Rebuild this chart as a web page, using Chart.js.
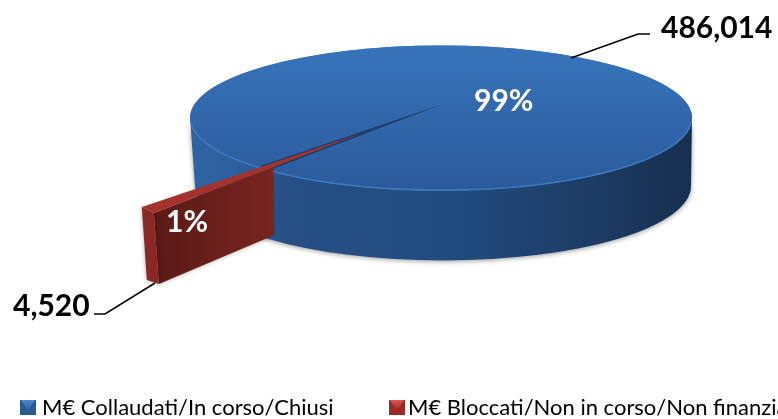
<!DOCTYPE html>
<html>
<head>
<meta charset="utf-8">
<title>Pie</title>
<script src="https://cdn.jsdelivr.net/npm/chart.js@4/dist/chart.umd.min.js"></script>
<style>
html, body { margin: 0; padding: 0; background: #fff; overflow: hidden; }
canvas { display: block; }
</style>
</head>
<body>
<canvas id="chart" width="778" height="419"></canvas>
<script>
const categories = ['M€ Collaudati/In corso/Chiusi', 'M€ Bloccati/Non in corso/Non finanziati'];
const values = [486014, 4520];
const percentLabels = ['99%', '1%'];

// pie tilt, fitted by eye to the picture
const RADIUS = 251;
const TILT = 0.289;
const PIE_X = 441, PIE_Y = 118;
const APEX_X = 443, APEX_Y = 104;
const DEPTH = 68;
// the exploded slice is nearer to the viewer, so it gets its own matrix
const EXPLODE = 95;
const NEAR = { a: 1.179, b: 0.133, c: -0.147, d: 0.5 };
const FONT = 'Lato, Carlito, sans-serif';

function nearPoint(arc, angle, r) {
    const mid = (arc.startAngle + arc.endAngle) / 2;
    const px = Math.cos(mid) * EXPLODE + Math.cos(angle) * r;
    const py = Math.sin(mid) * EXPLODE + Math.sin(angle) * r;
    return { x: APEX_X + NEAR.a * px + NEAR.c * py, y: APEX_Y + NEAR.b * px + NEAR.d * py };
}

function drawBlueWall(ctx) {
    const g = ctx.createLinearGradient(PIE_X - RADIUS, 0, PIE_X + RADIUS, 0);
    g.addColorStop(0, '#2f64a4');
    g.addColorStop(0.16, '#2b5b98');
    g.addColorStop(0.18, '#264f86');
    g.addColorStop(0.55, '#214a7d');
    g.addColorStop(0.8, '#1d3c64');
    g.addColorStop(1, '#172f4f');
    ctx.save();
    ctx.shadowColor = 'rgba(0,0,0,0.4)';
    ctx.shadowBlur = 5;
    ctx.shadowOffsetY = 1;
    ctx.fillStyle = g;
    ctx.beginPath();
    ctx.ellipse(PIE_X, PIE_Y, RADIUS, RADIUS * TILT, 0, 0, Math.PI);
    ctx.ellipse(PIE_X + 2, PIE_Y + DEPTH, RADIUS - 3, RADIUS * TILT + 2, 0, Math.PI, 0, true);
    ctx.closePath();
    ctx.fill();
    ctx.restore();
}

function drawRedWalls(ctx, arc) {
    const tip = nearPoint(arc, arc.startAngle, 0);
    const c1 = nearPoint(arc, arc.endAngle, RADIUS);
    const c2 = nearPoint(arc, arc.startAngle, RADIUS);
    const cut = { x: c2.x + (tip.x - c2.x) * 0.572, y: c2.y + (tip.y - c2.y) * 0.572 };

    ctx.save();
    ctx.shadowColor = 'rgba(0,0,0,0.35)';
    ctx.shadowBlur = 4;
    const side = ctx.createLinearGradient(c2.x, 0, cut.x, 0);
    side.addColorStop(0, '#5b1a17');
    side.addColorStop(1, '#78241f');
    ctx.fillStyle = side;
    ctx.beginPath();
    ctx.moveTo(c2.x, c2.y);
    ctx.lineTo(cut.x, cut.y);
    ctx.lineTo(cut.x + 1, cut.y + DEPTH);
    ctx.lineTo(c2.x + 5, c2.y + DEPTH + 3);
    ctx.closePath();
    ctx.fill();
    ctx.fillStyle = '#8a2825';
    ctx.beginPath();
    ctx.moveTo(c1.x, c1.y);
    ctx.lineTo(c2.x, c2.y);
    ctx.lineTo(c2.x + 5, c2.y + DEPTH + 3);
    ctx.lineTo(c1.x + 5, c1.y + DEPTH + 5);
    ctx.closePath();
    ctx.fill();
    ctx.restore();
}

function drawLeader(ctx, pts) {
    ctx.save();
    ctx.strokeStyle = '#000';
    ctx.lineWidth = 1.5;
    ctx.beginPath();
    pts.forEach((p, i) => i ? ctx.lineTo(p[0], p[1]) : ctx.moveTo(p[0], p[1]));
    ctx.stroke();
    ctx.restore();
}

function drawSwatch(ctx, x, y, top, bottom, edge) {
    const g = ctx.createLinearGradient(0, y, 0, y + 15);
    g.addColorStop(0, top);
    g.addColorStop(1, bottom);
    ctx.fillStyle = edge;
    ctx.fillRect(x, y, 16, 15);
    ctx.fillStyle = g;
    ctx.beginPath();
    ctx.moveTo(x + 1, y);
    ctx.lineTo(x + 15, y);
    ctx.lineTo(x + 8, y + 11);
    ctx.closePath();
    ctx.fill();
}

const pie3d = {
    id: 'pie3d',
    beforeDatasetsDraw(chart) {
        const ctx = chart.ctx;
        const arcs = chart.getDatasetMeta(0).data;
        const blue = arcs[0], red = arcs[1];
        const mid = (red.startAngle + red.endAngle) / 2;

        drawBlueWall(ctx);

        // top face, the full disc goes under the arc to close the gap
        ctx.save();
        ctx.translate(PIE_X, PIE_Y);
        ctx.scale(1, TILT);
        ctx.translate(-blue.x, -blue.y);
        ctx.fillStyle = blue.options.backgroundColor;
        ctx.beginPath();
        ctx.arc(blue.x, blue.y, RADIUS, 0, Math.PI * 2);
        ctx.fill();
        blue.draw(ctx);
        ctx.restore();

        // light edge along the front of the top face
        ctx.save();
        ctx.strokeStyle = '#3c7ac2';
        ctx.lineWidth = 1.5;
        ctx.beginPath();
        ctx.ellipse(PIE_X, PIE_Y, RADIUS - 0.5, RADIUS * TILT - 0.5, 0, 0.05, Math.PI - 0.05);
        ctx.stroke();
        ctx.restore();

        // dark gap the slice left behind
        ctx.save();
        ctx.translate(APEX_X, APEX_Y);
        ctx.scale(1, TILT);
        ctx.fillStyle = '#1d3f6c';
        ctx.beginPath();
        ctx.moveTo(0, 0);
        ctx.arc(0, 0, 282, red.startAngle, red.endAngle);
        ctx.closePath();
        ctx.fill();
        ctx.restore();

        drawRedWalls(ctx, red);

        ctx.save();
        ctx.translate(APEX_X, APEX_Y);
        ctx.transform(NEAR.a, NEAR.b, NEAR.c, NEAR.d, 0, 0);
        ctx.translate(Math.cos(mid) * EXPLODE - red.x, Math.sin(mid) * EXPLODE - red.y);
        red.draw(ctx);
        ctx.restore();

        return false;
    },
    afterDraw(chart) {
        const ctx = chart.ctx;
        const fmt = v => v.toLocaleString('en-US');

        drawLeader(ctx, [[571, 58], [638, 34], [650, 34]]);
        drawLeader(ctx, [[155, 283], [105, 314], [94, 314]]);

        ctx.save();
        ctx.textBaseline = 'alphabetic';
        ctx.textAlign = 'left';
        ctx.font = 'bold 30px ' + FONT;
        ctx.fillStyle = '#000';
        ctx.fillText(fmt(values[0]), 661, 38);
        ctx.fillText(fmt(values[1]), 13, 316);
        ctx.fillStyle = '#fff';
        ctx.fillText(percentLabels[0], 474, 111);
        ctx.fillText(percentLabels[1], 166, 232);

        ctx.font = '22px ' + FONT;
        ctx.fillStyle = '#000';
        ctx.fillText(categories[0], 42, 415);
        ctx.fillText(categories[1], 408, 415);
        ctx.restore();

        drawSwatch(ctx, 20, 400, '#4a8ad0', '#24507f', '#2a5a94');
        drawSwatch(ctx, 389, 400, '#e0534c', '#7a1f1b', '#9a2b26');
    }
};

new Chart(document.getElementById('chart'), {
    type: 'pie',
    plugins: [pie3d],
    data: {
        labels: categories,
        datasets: [{
            data: values,
            borderWidth: 0,
            backgroundColor: c => {
                if (c.dataIndex === 1) return '#a5332d';
                const area = c.chart.chartArea;
                if (!area) return '#2f66aa';
                const mid = (area.top + area.bottom) / 2;
                const g = c.chart.ctx.createLinearGradient(0, mid - RADIUS, 0, mid + RADIUS);
                g.addColorStop(0, '#3874bb');
                g.addColorStop(1, '#2b5a9b');
                return g;
            }
        }]
    },
    options: {
        responsive: false,
        animation: false,
        radius: RADIUS,
        rotation: 220.46,
        layout: { padding: 0 },
        plugins: { legend: { display: false }, tooltip: { enabled: false } }
    }
});
</script>
</body>
</html>
